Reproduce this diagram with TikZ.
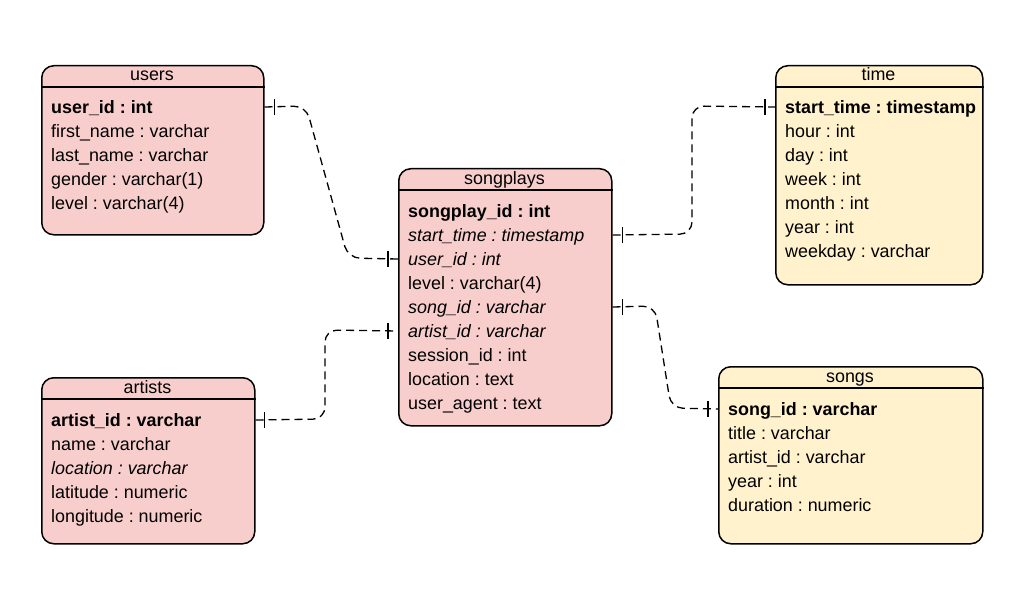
\documentclass[tikz,border=0pt]{standalone}
\usepackage{fontspec}
\setmainfont{Liberation Sans}
\definecolor{factfill}{HTML}{F8CECC}
\definecolor{dimfill}{HTML}{FFF2CC}
\frenchspacing
\begin{document}
\begin{tikzpicture}[x=1pt,y=-1pt,
  entity/.style={draw=black, line width=1.5pt, rounded corners=12pt,
    anchor=north west, inner sep=0pt},
  sepline/.style={draw=black, line width=1.5pt},
  title/.style={anchor=base, inner sep=0pt, font=\fontsize{17.9}{20}\selectfont},
  field/.style={anchor=west, inner sep=0pt, text height=12.9pt, text depth=0pt,
    font=\fontsize{17.9}{20}\selectfont},
  rel/.style={draw=black, line width=1.3pt, dash pattern=on 8pt off 5pt,
    rounded corners=12pt},
  onebar/.style={draw=black, line width=1.6pt}
]
\useasboundingbox (0,0) rectangle (1032,604);

% ---------- users ----------
\node[entity, fill=factfill, minimum width=222pt, minimum height=169pt] (users) at (41,65) {};
\draw[sepline] (users.west |- 0,87) -- (users.east |- 0,87);
\node[title] (users-t) at (152,81) {users};
\node[field] (users-r1) at (51,107) {\textbf{user\_id : int}};
\node[field] (users-r2) at (51,131) {first\_name : varchar};
\node[field] (users-r3) at (51,155) {last\_name : varchar};
\node[field] (users-r4) at (51,179) {gender : varchar(1)};
\node[field] (users-r5) at (51,203) {level : varchar(4)};

% ---------- songplays ----------
\node[entity, fill=factfill, minimum width=213pt, minimum height=257pt] (songplays) at (398,168) {};
\draw[sepline] (songplays.west |- 0,190) -- (songplays.east |- 0,190);
\node[title] (songplays-t) at (504.5,184) {songplays};
\node[field] (songplays-r1) at (408,211) {\textbf{songplay\_id : int}};
\node[field] (songplays-r2) at (408,235) {\textit{start\_time : timestamp}};
\node[field] (songplays-r3) at (408,259) {\textit{user\_id : int}};
\node[field] (songplays-r4) at (408,283) {level : varchar(4)};
\node[field] (songplays-r5) at (408,307) {\textit{song\_id : varchar}};
\node[field] (songplays-r6) at (408,331) {\textit{artist\_id : varchar}};
\node[field] (songplays-r7) at (408,355) {session\_id : int};
\node[field] (songplays-r8) at (408,379) {location : text};
\node[field] (songplays-r9) at (408,403) {user\_agent : text};

% ---------- artists ----------
\node[entity, fill=factfill, minimum width=213pt, minimum height=166pt] (artists) at (41,377) {};
\draw[sepline] (artists.west |- 0,399) -- (artists.east |- 0,399);
\node[title] (artists-t) at (147.5,393) {artists};
\node[field] (artists-r1) at (51,420) {\textbf{artist\_id : varchar}};
\node[field] (artists-r2) at (51,444) {name : varchar};
\node[field] (artists-r3) at (51,468) {\textit{location : varchar}};
\node[field] (artists-r4) at (51,492) {latitude : numeric};
\node[field] (artists-r5) at (51,516) {longitude : numeric};

% ---------- time ----------
\node[entity, fill=dimfill, minimum width=207pt, minimum height=219pt] (time) at (775,65) {};
\draw[sepline] (time.west |- 0,87) -- (time.east |- 0,87);
\node[title] (time-t) at (878.5,81) {time};
\node[field] (time-r1) at (785,107) {\textbf{start\_time : timestamp}};
\node[field] (time-r2) at (785,131) {hour : int};
\node[field] (time-r3) at (785,155) {day : int};
\node[field] (time-r4) at (785,179) {week : int};
\node[field] (time-r5) at (785,203) {month : int};
\node[field] (time-r6) at (785,227) {year : int};
\node[field] (time-r7) at (785,251) {weekday : varchar};

% ---------- songs ----------
\node[entity, fill=dimfill, minimum width=264pt, minimum height=177pt] (songs) at (718,366) {};
\draw[sepline] (songs.west |- 0,388) -- (songs.east |- 0,388);
\node[title] (songs-t) at (850,382) {songs};
\node[field] (songs-r1) at (728,409) {\textbf{song\_id : varchar}};
\node[field] (songs-r2) at (728,433) {title : varchar};
\node[field] (songs-r3) at (728,457) {artist\_id : varchar};
\node[field] (songs-r4) at (728,481) {year : int};
\node[field] (songs-r5) at (728,505) {duration : numeric};

% ---------- relationships (one-to-one bars near each end) ----------
% users.user_id -- songplays.user_id
\draw[rel] (users.east |- users-r1) -- (306,106) -- (348,258) -- (songplays.west |- songplays-r3);
\draw[onebar] ([xshift=10pt]users.east |- users-r1) ++(0,-8) -- ++(0,16);
\draw[onebar] ([xshift=-10pt]songplays.west |- songplays-r3) ++(0,-8) -- ++(0,16);

% songplays.start_time -- time.start_time
\draw[rel] (songplays.east |- songplays-r2) -- (692,234) -- (692,106) -- (time.west |- time-r1);
\draw[onebar] ([xshift=10pt]songplays.east |- songplays-r2) ++(0,-8) -- ++(0,16);
\draw[onebar] ([xshift=-10pt]time.west |- time-r1) ++(0,-8) -- ++(0,16);

% artists.artist_id -- songplays.artist_id
\draw[rel] (artists.east |- artists-r1) -- (325,419) -- (325,330) -- (songplays.west |- songplays-r6);
\draw[onebar] ([xshift=9pt]artists.east |- artists-r1) ++(0,-8) -- ++(0,16);
\draw[onebar] ([xshift=-10pt]songplays.west |- songplays-r6) ++(0,-8) -- ++(0,16);

% songplays.song_id -- songs.song_id
\draw[rel] (songplays.east |- songplays-r5) -- (655,306) -- (671,408) -- (songs.west |- songs-r1);
\draw[onebar] ([xshift=10pt]songplays.east |- songplays-r5) ++(0,-8) -- ++(0,16);
\draw[onebar] ([xshift=-10pt]songs.west |- songs-r1) ++(0,-8) -- ++(0,16);
\end{tikzpicture}
\end{document}
